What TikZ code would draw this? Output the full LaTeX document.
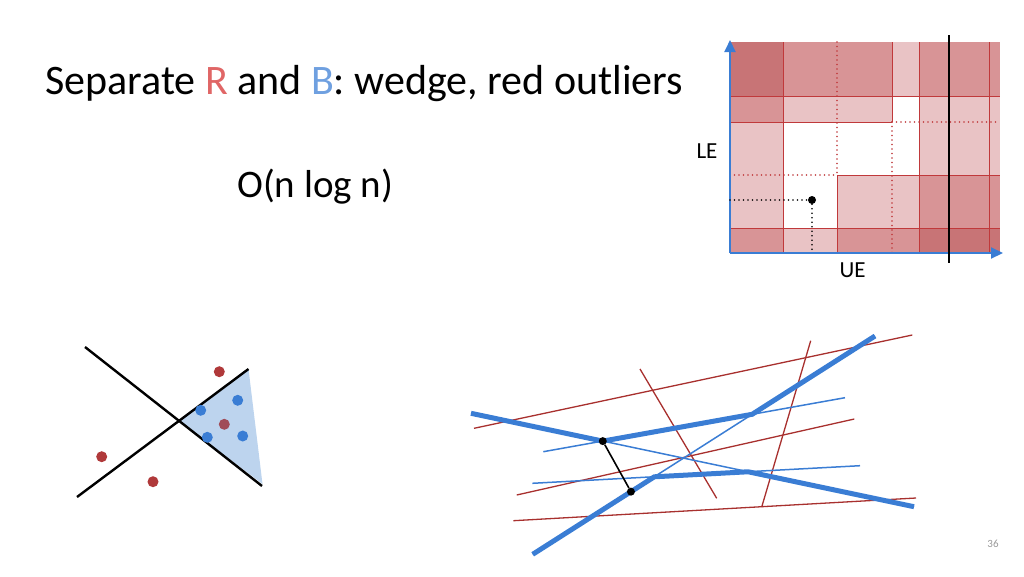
\documentclass[tikz,border=0pt]{standalone}
\usepackage{fontspec}
\setmainfont{Carlito}
\usepackage{tikz}
\usetikzlibrary{arrows.meta,calc,positioning}

\definecolor{redtxt}{HTML}{E06666}
\definecolor{bluetxt}{HTML}{6FA0E0}
\definecolor{ptred}{HTML}{B0393A}
\definecolor{ptblue}{HTML}{3A7DD4}
\definecolor{ptmix}{HTML}{A04C58}
\definecolor{lnred}{HTML}{A8302E}
\definecolor{gridln}{HTML}{C0393B}
\definecolor{cellD}{HTML}{C87476}
\definecolor{cellM}{HTML}{D89496}
\definecolor{cellL}{HTML}{E9C3C5}
\definecolor{cellW}{HTML}{FFFFFF}
\definecolor{wedgefill}{HTML}{BDD4EE}

\tikzset{
  reddot/.style={circle,fill=ptred,inner sep=0pt,minimum size=11pt},
  bluedot/.style={circle,fill=ptblue,inner sep=0pt,minimum size=11pt},
  blackdot/.style={circle,fill=black,inner sep=0pt,minimum size=8pt},
  gline/.style={gridln,line width=0.8pt},
  gdot/.style={gridln,line width=1.6pt,line cap=round,dash pattern=on 0pt off 4.5pt},
  thinred/.style={lnred,line width=1.3pt},
  thinblue/.style={ptblue,line width=1.5pt},
  thickblue/.style={ptblue,line width=5pt},
  wedgeline/.style={black,line width=2.4pt}
}

\begin{document}
\begin{tikzpicture}[x=1pt,y=-1pt]
  \useasboundingbox (0,0) rectangle (1024,576);

  % title and text
  \node[anchor=base west,inner sep=0pt] (title) at (45,94)
    {\fontsize{42}{44}\selectfont Separate \textcolor{redtxt}{R} and \textcolor{bluetxt}{B}: wedge, red outliers};
  \node[anchor=base west,inner sep=0pt] (cost) at (237,197)
    {\fontsize{39}{42}\selectfont O(n log n)};
  \node[inner sep=0pt] (le) at (707,151) {\fontsize{23}{25}\selectfont LE};
  \node[inner sep=0pt] (ue) at (852.5,270) {\fontsize{23}{25}\selectfont UE};
  \node[inner sep=0pt,text=gray!80] (pageno) at (993,544) {\fontsize{11}{13}\selectfont 36};

  % grid of cells
  \foreach \xa/\xb/\ya/\yb/\c in {
      730/783/42/96/D, 783/837/42/96/M, 837/892/42/96/M, 892/919/42/96/L, 919/989/42/96/M, 989/1000/42/96/M,
      730/783/96/122/M, 783/837/96/122/L, 837/892/96/122/L, 892/919/96/122/W, 919/989/96/122/L, 989/1000/96/122/L,
      730/783/122/175/L, 783/837/122/175/W, 837/892/122/175/W, 892/919/122/175/W, 919/989/122/175/L, 989/1000/122/175/L,
      730/783/175/228/L, 783/837/175/228/W, 837/892/175/228/L, 892/919/175/228/L, 919/989/175/228/M, 989/1000/175/228/M,
      730/783/228/253/M, 783/837/228/253/L, 837/892/228/253/M, 892/919/228/253/M, 919/989/228/253/D, 989/1000/228/253/D}
    \fill[cell\c] (\xa,\ya) rectangle (\xb,\yb);

  \draw[gline] (783,42) -- (783,253);
  \draw[gline] (919,42) -- (919,253);
  \draw[gline] (989,42) -- (989,253);
  \draw[gline] (892,42) -- (892,122);
  \draw[gline] (837,175) -- (837,253);
  \draw[gdot] (837,42) -- (837,175);
  \draw[gdot] (892,122) -- (892,253);
  \draw[gline] (730,96) -- (1000,96);
  \draw[gline] (730,228) -- (1000,228);
  \draw[gline] (730,122) -- (892,122);
  \draw[gdot] (892,122) -- (1000,122);
  \draw[gdot] (730,175) -- (837,175);
  \draw[gline] (837,175) -- (1000,175);

  % axes
  \coordinate (origin) at (730,253);
  \coordinate (ytop) at (730,40);
  \coordinate (xend) at (1003,253);
  \draw[ptblue,line width=2pt,-{Triangle[length=12pt,width=11pt]}] (origin) -- (ytop);
  \draw[ptblue,line width=2pt,-{Triangle[length=12pt,width=11pt]}] (origin) -- (xend);

  % query point
  \node[blackdot] (qpt) at (812,200) {};
  \coordinate (qleft) at (730,200);
  \coordinate (qdown) at (812,253);
  \draw[black,line width=1.8pt,line cap=round,dash pattern=on 0pt off 4.5pt] (qleft) -- (qpt);
  \draw[black,line width=1.8pt,line cap=round,dash pattern=on 0pt off 4.5pt] (qpt) -- (qdown);

  % separator line
  \coordinate (sep1) at (949,35);
  \coordinate (sep2) at (949,263);
  \draw[black,line width=2pt] (sep1) -- (sep2);

  % wedge
  \coordinate (w1a) at (85,347);
  \coordinate (w1b) at (262,486);
  \coordinate (w2a) at (77,497);
  \coordinate (w2b) at (248.5,369);
  \coordinate (apex) at (intersection of w1a--w1b and w2a--w2b);
  \fill[wedgefill] (apex) -- (w2b) -- (262.5,484) -- cycle;
  \draw[wedgeline] (w1a) -- (w1b);
  \draw[wedgeline] (w2a) -- (w2b);

  \node[reddot] (r1) at (219.3,371.7) {};
  \node[bluedot] (b1) at (237.7,400.3) {};
  \node[bluedot] (b2) at (200.7,410.3) {};
  \node[circle,fill=ptmix,inner sep=0pt,minimum size=11pt] (m1) at (224.3,424.3) {};
  \node[bluedot] (b3) at (207.3,437.3) {};
  \node[bluedot] (b4) at (242.7,436) {};
  \node[reddot] (r2) at (101.7,456.7) {};
  \node[reddot] (r3) at (153,481.7) {};

  % arrangement of lines
  \draw[thinred] (474,428.3) -- (912.3,335);
  \draw[thinred] (640,369) -- (716.7,498.3);
  \draw[thinred] (810.7,340.7) -- (761.7,507);
  \draw[thinred] (516.7,495) -- (854.3,419);
  \draw[thinred] (513.3,520.7) -- (916,498);

  \coordinate (a1) at (471,413.3);
  \coordinate (a2) at (914,506.7);
  \coordinate (b1) at (543.3,451.7);
  \coordinate (b2) at (845,397.7);
  \coordinate (c1) at (532.7,554.3);
  \coordinate (c2) at (875,336);
  \coordinate (d1) at (532.3,483.3);
  \coordinate (d2) at (860,465.7);

  \draw[thinblue] (a1) -- (a2);
  \draw[thinblue] (b1) -- (b2);
  \draw[thinblue] (c1) -- (c2);
  \draw[thinblue] (d1) -- (d2);

  \coordinate (ab) at (intersection of a1--a2 and b1--b2);
  \coordinate (bc) at (intersection of b1--b2 and c1--c2);
  \coordinate (cd) at (intersection of c1--c2 and d1--d2);
  \coordinate (da) at (intersection of d1--d2 and a1--a2);

  \draw[thickblue] (a1) -- (ab) -- (bc) -- (c2);
  \draw[thickblue] (c1) -- (cd) -- (da) -- (a2);

  \node[blackdot] (p) at (ab) {};
  \node[blackdot] (q) at ($(c1)!0.287!(c2)$) {};
  \draw[black,line width=1.6pt] (p) -- (q);
\end{tikzpicture}
\end{document}
